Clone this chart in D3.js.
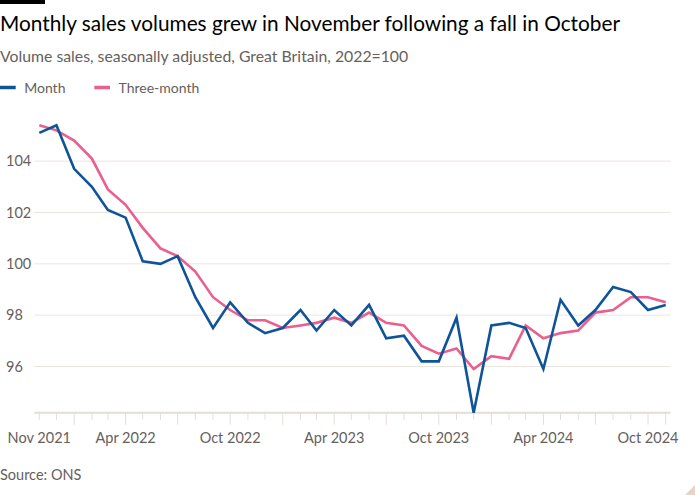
<!DOCTYPE html>
<html>
<head>
<meta charset="utf-8">
<script src="https://cdn.jsdelivr.net/npm/d3@7"></script>
<style>
  html, body { margin: 0; padding: 0; background: #fff; }
  svg { display: block; font-family: Lato, "Noto Sans", sans-serif; }
</style>
</head>
<body>
<svg id="chart" width="700" height="500"></svg>
<script>
// ---- Data ----
const months = [
  "2021-11","2021-12",
  "2022-01","2022-02","2022-03","2022-04","2022-05","2022-06","2022-07","2022-08","2022-09","2022-10","2022-11","2022-12",
  "2023-01","2023-02","2023-03","2023-04","2023-05","2023-06","2023-07","2023-08","2023-09","2023-10","2023-11","2023-12",
  "2024-01","2024-02","2024-03","2024-04","2024-05","2024-06","2024-07","2024-08","2024-09","2024-10","2024-11"
];
const monthValues = [
  105.1, 105.4,
  103.7, 103.0, 102.1, 101.8, 100.1, 100.0, 100.3, 98.7, 97.5, 98.5, 97.7, 97.3,
  97.5, 98.2, 97.4, 98.2, 97.6, 98.4, 97.1, 97.2, 96.2, 96.2, 97.9, 94.2,
  97.6, 97.7, 97.5, 95.9, 98.6, 97.6, 98.2, 99.1, 98.9, 98.2, 98.4
];
const threeMonthValues = [
  105.4, 105.2,
  104.8, 104.1, 102.9, 102.3, 101.4, 100.6, 100.3, 99.7, 98.7, 98.2, 97.8, 97.8,
  97.5, 97.6, 97.7, 97.9, 97.7, 98.1, 97.7, 97.6, 96.8, 96.5, 96.7, 95.9,
  96.4, 96.3, 97.6, 97.1, 97.3, 97.4, 98.1, 98.2, 98.7, 98.7, 98.5
];
const yTicks = [96, 98, 100, 102, 104];
const xTickLabels = ["2021-11","2022-04","2022-10","2023-04","2023-10","2024-04","2024-10"];
const seriesNames = ["Month", "Three-month"];
const seriesColors = ["#0f5499", "#eb5f8f"];

const title = "Monthly sales volumes grew in November following a fall in October";
const subtitle = "Volume sales, seasonally adjusted, Great Britain, 2022=100";
const source = "Source: ONS";

// ---- Setup ----
const parse = d3.timeParse("%Y-%m");
const dates = months.map(parse);
const svg = d3.select("#chart");

const x = d3.scaleTime()
  .domain(d3.extent(dates))
  .range([39.3, 665.7]);
const y = d3.scaleLinear()
  .domain([94.2, 106])
  .range([412.7, 109.8]);

const plotLeft = 34.3, plotRight = 670.5;

// Top black bar
svg.append("rect").attr("x", 0).attr("y", 0).attr("width", 45).attr("height", 4).attr("fill", "#000");

// Title / subtitle
svg.append("text").attr("x", 0).attr("y", 31)
  .attr("font-size", 20.8).attr("fill", "#000").text(title);
svg.append("text").attr("x", 0).attr("y", 62)
  .attr("font-size", 15.8).attr("fill", "#66605c").text(subtitle);

// Legend
const legendX = [0, 94.3];
seriesNames.forEach((n, i) => {
  const g = svg.append("g").attr("transform", `translate(${legendX[i]},0)`);
  g.append("line").attr("x1", 0).attr("x2", 15.7).attr("y1", 87.5).attr("y2", 87.5)
    .attr("stroke", seriesColors[i]).attr("stroke-width", 3.5);
  g.append("text").attr("x", 24.2).attr("y", 92.7).attr("font-size", 14)
    .attr("fill", "#66605c").text(n);
});

// Gridlines + y labels
const yg = svg.append("g");
yTicks.forEach(t => {
  yg.append("line").attr("x1", plotLeft).attr("x2", plotRight)
    .attr("y1", y(t)).attr("y2", y(t))
    .attr("stroke", "#ece5de").attr("stroke-width", 1);
  yg.append("text").attr("x", 6).attr("y", y(t)).attr("dy", "0.35em")
    .attr("font-size", 14.5).attr("fill", "#66605c").text(t);
});

// X axis
const xa = svg.append("g");
xa.append("line").attr("x1", plotLeft).attr("x2", plotRight)
  .attr("y1", y(94.2)).attr("y2", y(94.2))
  .attr("stroke", "#e6ddd4").attr("stroke-width", 2);
dates.forEach(d => {
  const q = d.getMonth() % 3 === 0;
  const last = +d === +dates[dates.length - 1];
  xa.append("line").attr("x1", x(d)).attr("x2", x(d))
    .attr("y1", y(94.2)).attr("y2", y(94.2) + (q || last ? 12 : 7))
    .attr("stroke", "#e6ddd4").attr("stroke-width", 1);
});
const fmt = d3.timeFormat("%b %Y");
xTickLabels.map(parse).forEach(d => {
  xa.append("text").attr("x", x(d)).attr("y", 442.5).attr("text-anchor", "middle")
    .attr("font-size", 14.5).attr("fill", "#66605c").text(fmt(d));
});

// Lines
const line = d3.line().x((d, i) => x(dates[i])).y(d => y(d));
[threeMonthValues, monthValues].forEach((vals, k) => {
  const color = k === 0 ? seriesColors[1] : seriesColors[0];
  svg.append("path").datum(vals).attr("d", line)
    .attr("fill", "none").attr("stroke", color).attr("stroke-width", 2.6)
    .attr("stroke-linejoin", "miter").attr("stroke-linecap", "butt");
});

// Source
svg.append("text").attr("x", 0).attr("y", 480).attr("font-size", 14.5)
  .attr("fill", "#66605c").text(source);

// corner mark
svg.append("path").attr("d", "M695,485 L695,495 L685,495 Z").attr("fill", "#e3d6c8");
</script>
</body>
</html>
